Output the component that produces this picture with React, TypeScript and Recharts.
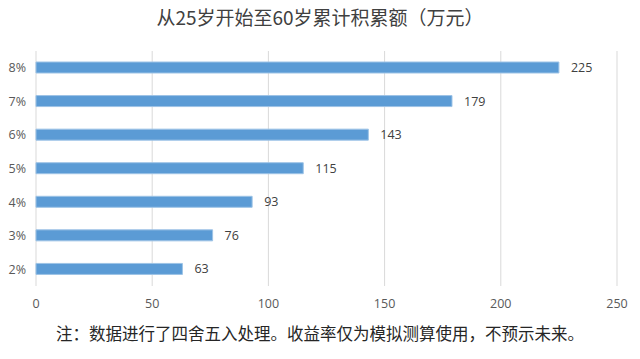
import React from "react";
import { BarChart, Bar, XAxis, YAxis, CartesianGrid, LabelList } from "recharts";

const rates = ["8%", "7%", "6%", "5%", "4%", "3%", "2%"];
const totals = [225, 179, 143, 115, 93, 76, 63];
const xTicks = [0, 50, 100, 150, 200, 250];

const title = "从25岁开始至60岁累计积累额（万元）";
const note = "注：数据进行了四舍五入处理。收益率仅为模拟测算使用，不预示未来。";

const data = rates.map((rate, i) => ({ rate, total: totals[i] }));

const tickFont = { fontFamily: "'Open Sans', Arial, sans-serif", fontSize: 12.5, fill: "#595959" };

export default function App() {
  return (
    <div style={{ position: "absolute", left: 0, top: 0, width: 640, height: 359, background: "#fff" }}>
      {/* Title */}
      <div
        style={{
          position: "absolute",
          top: 4,
          width: 640,
          textAlign: "center",
          fontFamily: "'Noto Sans CJK SC', sans-serif",
          fontSize: 19,
          lineHeight: "25px",
          color: "#404040",
        }}
      >
        {title}
      </div>
      <BarChart
        width={640}
        height={359}
        data={data}
        layout="vertical"
        margin={{ top: 51, right: 23, left: 0, bottom: 43 }}
      >
        <CartesianGrid horizontal={false} stroke="#d9d9d9" />
        <XAxis
          type="number"
          domain={[0, 250]}
          ticks={xTicks}
          axisLine={false}
          tickLine={false}
          tickSize={0}
          tickMargin={13}
          height={30}
          tick={tickFont}
        />
        <YAxis
          type="category"
          dataKey="rate"
          width={36}
          axisLine={false}
          tickLine={false}
          tickSize={0}
          tickMargin={10}
          tick={tickFont}
        />
        <Bar dataKey="total" fill="#5b9bd5" stroke="#9dc3e6" strokeWidth={1} barSize={11} isAnimationActive={false}>
          <LabelList dataKey="total" position="right" offset={12} style={{ ...tickFont, fill: "#404040" }} />
        </Bar>
      </BarChart>
      {/* Footnote */}
      <div
        style={{
          position: "absolute",
          top: 322,
          width: 640,
          textAlign: "center",
          fontFamily: "'Noto Sans CJK SC', sans-serif",
          fontSize: 16.5,
          lineHeight: "22px",
          color: "#262626",
        }}
      >
        {note}
      </div>
    </div>
  );
}
